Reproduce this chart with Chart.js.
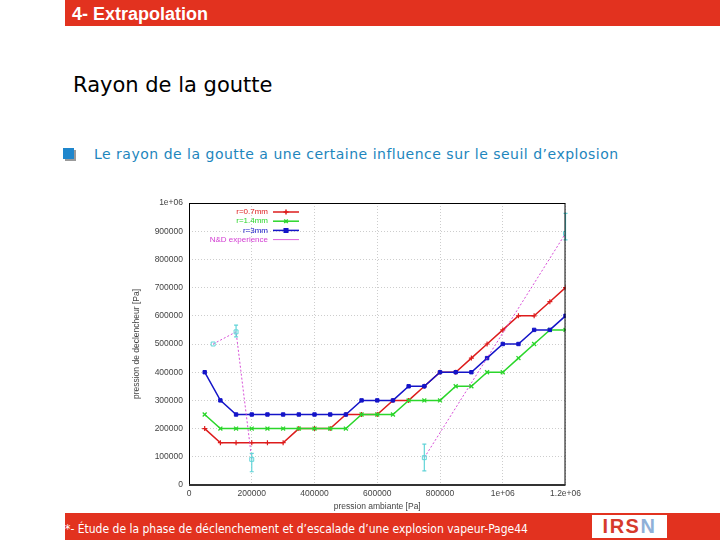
<!DOCTYPE html>
<html>
<head>
<meta charset="utf-8">
<script src="https://cdn.jsdelivr.net/npm/chart.js@4.4.1/dist/chart.umd.min.js"></script>
<style>
  body { margin: 0; width: 720px; height: 540px; background: #fff; position: relative; overflow: hidden; font-family: "DejaVu Sans", sans-serif; }
  .bar { position: absolute; left: 65px; right: 0; background: #e2321f; }
  #head { top: 0; height: 26px; }
  #head span { position: absolute; left: 7px; top: 4px; color: #fff; font: bold 18px "Liberation Sans", Arial, sans-serif; }
  #title { position: absolute; left: 73px; top: 73px; font-size: 21px; color: #000; }
  #bullet { position: absolute; left: 63px; top: 148px; width: 11px; height: 11px; background: #1f86cc; box-shadow: 2px 2px 0 #9a9a9a; }
  #sub { position: absolute; left: 94px; top: 146px; font-size: 14px; color: #1d86bd; letter-spacing: 0.5px; }
  #foot { top: 513px; height: 27px; }
  #foot span { position: absolute; left: 0; top: 9px; color: #fff; font: 12px "DejaVu Sans Condensed", "DejaVu Sans", sans-serif; }
  #logo { position: absolute; left: 592px; top: 515px; width: 75px; height: 23px; background: #fff; text-align: center; font: bold 20px "Liberation Sans", Arial, sans-serif; color: #d63a2c; line-height: 23px; letter-spacing: 1.5px; }
  #logo b { color: #8fb0d8; }
  #wrap { position: absolute; left: 130px; top: 190px; width: 455px; height: 325px; }
</style>
</head>
<body>
<div class="bar" id="head"><span>4- Extrapolation</span></div>
<div id="title">Rayon de la goutte</div>
<div id="bullet"></div>
<div id="sub">Le rayon de la goutte a une certaine influence sur le seuil d’explosion</div>
<div id="wrap"><canvas id="c"></canvas></div>
<div class="bar" id="foot"><span>*- Étude de la phase de déclenchement et d’escalade d’une explosion vapeur-Page44</span></div>
<div id="logo">IRS<b>N</b></div>
<script>
// ambient pressure [Pa], one point every 50000
const pAmb = [50000, 100000, 150000, 200000, 250000, 300000, 350000, 400000, 450000, 500000, 550000, 600000,
              650000, 700000, 750000, 800000, 850000, 900000, 950000, 1000000, 1050000, 1100000, 1150000, 1200000];

// trigger pressure [Pa] for each droplet radius
const r07 = [200000, 150000, 150000, 150000, 150000, 150000, 200000, 200000, 200000, 250000, 250000, 250000,
             300000, 300000, 350000, 400000, 400000, 450000, 500000, 550000, 600000, 600000, 650000, 700000];
const r14 = [250000, 200000, 200000, 200000, 200000, 200000, 200000, 200000, 200000, 200000, 250000, 250000,
             250000, 300000, 300000, 300000, 350000, 350000, 400000, 400000, 450000, 500000, 550000, 550000];
const r3  = [400000, 300000, 250000, 250000, 250000, 250000, 250000, 250000, 250000, 250000, 300000, 300000,
             300000, 350000, 350000, 400000, 400000, 400000, 450000, 500000, 500000, 550000, 550000, 600000];

// N&D experiments with error bars (two separate runs, not joined)
const expX = [77000, 150000, 200000, 750000, 1200000];
const expY = [500000, 543000, 91000, 97000, 892000];
const expLow = [500000, 525000, 47000, 50000, 869000];
const expHigh = [500000, 567000, 112000, 145000, 963000];
const expRun = [1, 1, 1, 2, 2];

const yTicks = ['0', '100000', '200000', '300000', '400000', '500000', '600000', '700000', '800000', '900000', '1e+06'];
const xTicks = ['0', '200000', '400000', '600000', '800000', '1e+06', '1.2e+06'];

const pts = (xs, ys) => xs.map((x, i) => ({x: x, y: ys[i]}));

// legend drawn inside the plot, gnuplot style
const keyItems = [
    {text: 'r=0.7mm', color: '#dd1c1c', style: 'cross'},
    {text: 'r=1.4mm', color: '#2bd62b', style: 'crossRot'},
    {text: 'r=3mm', color: '#1414c8', style: 'rect'},
    {text: 'N&D experience', color: '#d23ad2', style: null}
];

const tickFont = {size: 8.5, family: 'Liberation Sans'};

const framePlugin = {
    id: 'frame',
    afterDatasetsDraw(chart) {
        const {ctx, chartArea: a, scales: {x, y}} = chart;
        ctx.save();
        // error bars
        ctx.strokeStyle = '#62d4d8';
        ctx.lineWidth = 1.2;
        expX.forEach((v, i) => {
            if (expHigh[i] === expLow[i]) return;
            const px = x.getPixelForValue(v);
            const y1 = y.getPixelForValue(expLow[i]);
            const y2 = y.getPixelForValue(expHigh[i]);
            ctx.beginPath();
            ctx.moveTo(px, y1); ctx.lineTo(px, y2);
            ctx.moveTo(px - 2, y1); ctx.lineTo(px + 2, y1);
            ctx.moveTo(px - 2, y2); ctx.lineTo(px + 2, y2);
            ctx.stroke();
        });
        // border
        ctx.strokeStyle = '#000';
        ctx.lineWidth = 1;
        ctx.strokeRect(a.left + 0.5, a.top + 0.5, a.width - 1, a.height - 1);
        ctx.lineWidth = 2;
        ctx.strokeStyle = '#333';
        ctx.beginPath();
        ctx.moveTo(a.left, a.bottom); ctx.lineTo(a.right, a.bottom);
        ctx.stroke();
        // key
        ctx.font = '8px "Liberation Sans", Arial, sans-serif';
        ctx.textAlign = 'right';
        ctx.textBaseline = 'middle';
        keyItems.forEach((k, i) => {
            const ty = a.top + 9 + i * 9.2;
            const tx = a.left + 79;
            ctx.fillStyle = k.color;
            ctx.fillText(k.text, tx, ty);
            ctx.strokeStyle = k.color;
            ctx.lineWidth = k.style ? 1.5 : 0.8;
            ctx.beginPath();
            ctx.moveTo(tx + 5, ty); ctx.lineTo(tx + 31, ty);
            ctx.stroke();
            if (k.style) {
                Chart.helpers.drawPoint(ctx, {pointStyle: k.style, radius: 2.5, borderWidth: 1.2}, tx + 18, ty);
                if (k.style === 'rect') { ctx.fillStyle = k.color; ctx.fill(); }
            }
        });
        ctx.restore();
    }
};

new Chart(document.getElementById('c'), {
    type: 'scatter',
    data: {
        datasets: [
            {
                label: 'r=0.7mm', data: pts(pAmb, r07), showLine: true, order: 3,
                borderColor: '#dd1c1c', backgroundColor: '#dd1c1c', borderWidth: 1.5,
                pointStyle: 'cross', pointRadius: 2.5, pointBorderWidth: 1.2
            },
            {
                label: 'r=1.4mm', data: pts(pAmb, r14), showLine: true, order: 2,
                borderColor: '#2bd62b', backgroundColor: '#2bd62b', borderWidth: 1.5,
                pointStyle: 'crossRot', pointRadius: 2.8, pointBorderWidth: 1.3
            },
            {
                label: 'r=3mm', data: pts(pAmb, r3), showLine: true, order: 1,
                borderColor: '#1414c8', backgroundColor: '#1414c8', borderWidth: 1.5,
                pointStyle: 'rect', pointRadius: 2.4, pointBorderWidth: 1
            },
            {
                label: 'N&D experience', data: pts(expX, expY), showLine: true, order: 0,
                borderColor: '#d23ad2', borderWidth: 0.9, borderDash: [2, 2],
                segment: {
                    borderColor: c => expRun[c.p0DataIndex] !== expRun[c.p1DataIndex] ? 'rgba(0,0,0,0)' : undefined
                },
                pointStyle: 'rect', pointRadius: 2.8, pointBorderWidth: 1,
                pointBorderColor: '#62d4d8', pointBackgroundColor: 'rgba(255,255,255,0)'
            }
        ]
    },
    options: {
        responsive: true,
        maintainAspectRatio: false,
        animation: false,
        layout: { padding: { top: 13, right: 18, left: 0, bottom: 0 } },
        scales: {
            x: {
                type: 'linear', min: 0, max: 1200000,
                afterFit: s => { s.height = 30; },
                afterBuildTicks: s => { s.ticks = xTicks.map(t => ({value: Number(t)})); },
                ticks: {
                    callback: (v, i) => xTicks[i],
                    color: '#444', font: tickFont, padding: 4, maxRotation: 0
                },
                grid: { color: '#c0c0c0', lineWidth: 0.8, drawTicks: false },
                border: { display: false, dash: [1, 2] },
                title: { display: true, text: 'pression ambiante [Pa]', color: '#444',
                         font: tickFont, padding: {top: 0, bottom: 3} }
            },
            y: {
                min: 0, max: 1000000,
                afterFit: s => { s.width = 59; },
                afterBuildTicks: s => { s.ticks = yTicks.map(t => ({value: Number(t)})); },
                ticks: {
                    callback: (v, i) => yTicks[i],
                    color: '#444', font: tickFont, padding: 6
                },
                grid: { color: '#c0c0c0', lineWidth: 0.8, drawTicks: false },
                border: { display: false, dash: [1, 2] },
                title: { display: true, text: 'pression de declencheur [Pa]', color: '#444',
                         font: tickFont, padding: {top: 2, bottom: 0} }
            }
        },
        plugins: {
            legend: { display: false },
            tooltip: { enabled: false }
        }
    },
    plugins: [framePlugin]
});
</script>
</body>
</html>
